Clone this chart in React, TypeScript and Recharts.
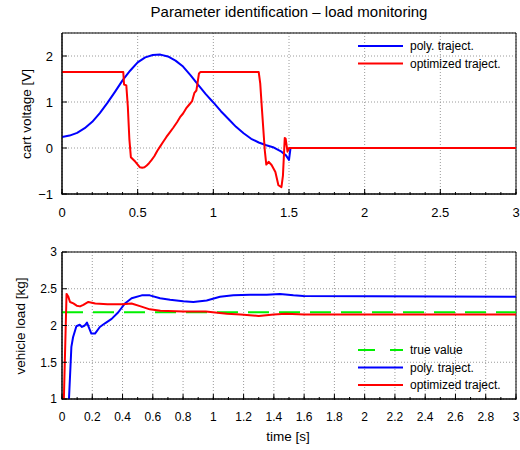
import React from 'react';
import { LineChart, Line, XAxis, YAxis, CartesianGrid, ReferenceArea, Legend } from 'recharts';

const FONT = '"Liberation Sans", Arial, Helvetica, sans-serif';

// ---------- tick labels ----------
const topXTicks = [0, 0.5, 1, 1.5, 2, 2.5, 3];
const topYTicks = [-1, 0, 1, 2];
const bottomXTicks = [0, 0.2, 0.4, 0.6, 0.8, 1, 1.2, 1.4, 1.6, 1.8, 2, 2.2, 2.4, 2.6, 2.8, 3];
const bottomYTicks = [1, 1.5, 2, 2.5, 3];
const minorXTicks = [0, 0.1, 0.2, 0.3, 0.4, 0.5, 0.6, 0.7, 0.8, 0.9, 1, 1.1, 1.2, 1.3, 1.4, 1.5, 1.6, 1.7, 1.8, 1.9, 2, 2.1, 2.2, 2.3, 2.4, 2.5, 2.6, 2.7, 2.8, 2.9, 3];

// ---------- top plot: cart voltage ----------
const polyVoltageT = [0, 0.05, 0.1, 0.15, 0.2, 0.25, 0.3, 0.35, 0.4, 0.45, 0.5, 0.55, 0.6, 0.65, 0.7, 0.75, 0.8, 0.85, 0.9, 0.95, 1.0, 1.05, 1.1, 1.15, 1.2, 1.25, 1.3, 1.35, 1.4, 1.45, 1.48, 1.5, 1.51, 3];
const polyVoltageV = [0.24, 0.27, 0.33, 0.43, 0.57, 0.76, 0.98, 1.22, 1.47, 1.68, 1.86, 1.97, 2.02, 2.03, 1.99, 1.9, 1.77, 1.58, 1.37, 1.17, 0.99, 0.8, 0.63, 0.46, 0.32, 0.2, 0.12, 0.06, 0.01, -0.08, -0.16, -0.26, 0, 0];

const optVoltageT = [0, 0.405, 0.41, 0.425, 0.435, 0.445, 0.455, 0.47, 0.485, 0.5, 0.515, 0.53, 0.545, 0.56, 0.575, 0.59, 0.61, 0.63, 0.65, 0.67, 0.69, 0.71, 0.735, 0.76, 0.78, 0.8, 0.82, 0.84, 0.86, 0.875, 0.888, 0.895, 0.905, 0.915, 1.3, 1.31, 1.32, 1.34, 1.35, 1.365, 1.385, 1.41, 1.43, 1.45, 1.46, 1.472, 1.478, 1.49, 1.5, 3];
const optVoltageV = [1.65, 1.65, 1.38, 1.36, 0.9, 0.2, -0.2, -0.25, -0.3, -0.36, -0.42, -0.43, -0.42, -0.38, -0.33, -0.27, -0.18, -0.06, 0.04, 0.14, 0.24, 0.33, 0.44, 0.56, 0.67, 0.75, 0.86, 0.94, 1.02, 1.2, 1.25, 1.4, 1.62, 1.65, 1.65, 1.4, 0.9, -0.05, -0.36, -0.3, -0.37, -0.52, -0.81, -0.85, -0.6, 0.22, 0.2, -0.08, 0, 0];

// ---------- bottom plot: vehicle load ----------
const trueLoadT = [0, 3];
const trueLoadV = [2.18, 2.18];

const polyLoadT = [0, 0.035, 0.062, 0.073, 0.095, 0.117, 0.132, 0.15, 0.165, 0.18, 0.194, 0.218, 0.25, 0.284, 0.328, 0.372, 0.416, 0.46, 0.527, 0.58, 0.648, 0.714, 0.8, 0.868, 0.956, 1.044, 1.132, 1.243, 1.353, 1.44, 1.529, 1.595, 3];
const polyLoadV = [0.3, 0.5, 1.71, 1.84, 1.99, 2.01, 1.98, 2.0, 2.04, 1.96, 1.89, 1.89, 1.98, 2.03, 2.09, 2.18, 2.3, 2.37, 2.41, 2.41, 2.37, 2.35, 2.33, 2.32, 2.34, 2.39, 2.41, 2.42, 2.42, 2.43, 2.41, 2.4, 2.39];

const optLoadT = [0, 0.03, 0.042, 0.053, 0.075, 0.097, 0.119, 0.141, 0.174, 0.22, 0.3, 0.4, 0.46, 0.52, 0.58, 0.65, 0.8, 0.95, 1.09, 1.18, 1.3, 1.4, 1.48, 1.6, 3];
const optLoadV = [0, 2.43, 2.39, 2.32, 2.3, 2.27, 2.26, 2.28, 2.32, 2.3, 2.29, 2.29, 2.3, 2.26, 2.22, 2.2, 2.19, 2.19, 2.16, 2.15, 2.13, 2.15, 2.16, 2.15, 2.15];

const zip = (ts: number[], vs: number[]) => ts.map((t, i) => ({ t, v: vs[i] }));

const polyVoltage = zip(polyVoltageT, polyVoltageV);
const optVoltage = zip(optVoltageT, optVoltageV);
const trueLoad = zip(trueLoadT, trueLoadV);
const polyLoad = zip(polyLoadT, polyLoadV);
const optLoad = zip(optLoadT, optLoadV);

const BLUE = '#0000ff';
const RED = '#ff0000';
const GREEN = '#00f000';

type LegendItem = { name: string; color: string; dash?: string };
const topLegendItems: LegendItem[] = [
  { name: 'poly. traject.', color: BLUE },
  { name: 'optimized traject.', color: RED },
];
const bottomLegendItems: LegendItem[] = [
  { name: 'true value', color: GREEN, dash: '17 15' },
  { name: 'poly. traject.', color: BLUE },
  { name: 'optimized traject.', color: RED },
];

const fmt = (v: number) => (v < 0 ? '\u2212' + Math.abs(v) : String(v));

const makeLegend = (items: LegendItem[]) => () => (
  <svg width={165} height={items.length * 17.5 + 4} style={{ display: 'block' }}>
    {items.map((it, i) => {
      const y = 8 + i * 17.5;
      return (
        <g key={it.name}>
          <line x1={3} x2={48} y1={y} y2={y} stroke={it.color} strokeWidth={2} strokeDasharray={it.dash} />
          <text x={55} y={y + 4} fontSize={12} fontFamily={FONT} fill="#000">{it.name}</text>
        </g>
      );
    })}
  </svg>
);

const tickStyle = (size: number) => ({ fontSize: size, fill: '#000', fontFamily: FONT });

function TopChart() {
  return (
    <LineChart width={520} height={450} margin={{ top: 33, right: 4, bottom: 254, left: 61 }}>
      <CartesianGrid stroke="#9a9a9a" strokeDasharray="1 2" />
      <XAxis type="number" dataKey="t" domain={[0, 3]} ticks={topXTicks} interval={0} height={1} tickSize={-5} tickMargin={19}
        tick={tickStyle(13)} axisLine={{ stroke: '#000' }} tickLine={{ stroke: '#000' }} allowDataOverflow />
      <XAxis xAxisId="minor" type="number" dataKey="t" domain={[0, 3]} ticks={minorXTicks} interval={0} height={1} tickSize={-3}
        tickFormatter={() => ''} axisLine={false} tickLine={{ stroke: '#000' }} allowDataOverflow />
      <YAxis type="number" domain={[-1, 2.5]} ticks={topYTicks} interval={0} width={1} tickSize={-5} tickMargin={14}
        tick={tickStyle(13)} tickFormatter={fmt} axisLine={{ stroke: '#000' }} tickLine={{ stroke: '#000' }} allowDataOverflow />
      <ReferenceArea x1={0} x2={3} y1={-1} y2={2.5} fill="none" fillOpacity={0} stroke="#000" strokeWidth={1} />
      <Line data={polyVoltage} dataKey="v" name="poly. traject." stroke={BLUE} strokeWidth={2} dot={false} activeDot={false} isAnimationActive={false} strokeLinejoin="round" />
      <Line data={optVoltage} dataKey="v" name="optimized traject." stroke={RED} strokeWidth={2} dot={false} activeDot={false} isAnimationActive={false} strokeLinejoin="round" />
      <Legend layout="horizontal" verticalAlign="middle" align="center" content={makeLegend(topLegendItems)}
        wrapperStyle={{ left: 355, top: 38, width: 165, height: 40 }} />
    </LineChart>
  );
}

function BottomChart() {
  return (
    <LineChart width={520} height={450} margin={{ top: 252, right: 4, bottom: 49, left: 61 }}>
      <CartesianGrid stroke="#9a9a9a" strokeDasharray="1 2" />
      <XAxis type="number" dataKey="t" domain={[0, 3]} ticks={bottomXTicks} interval={0} height={1} tickSize={-5} tickMargin={18}
        tick={tickStyle(12)} axisLine={{ stroke: '#000' }} tickLine={{ stroke: '#000' }} allowDataOverflow />
      <XAxis xAxisId="minor" type="number" dataKey="t" domain={[0, 3]} ticks={minorXTicks} interval={0} height={1} tickSize={-3}
        tickFormatter={() => ''} axisLine={false} tickLine={{ stroke: '#000' }} allowDataOverflow />
      <YAxis type="number" domain={[1, 3]} ticks={bottomYTicks} interval={0} width={1} tickSize={-5} tickMargin={10}
        tick={tickStyle(12)} axisLine={{ stroke: '#000' }} tickLine={{ stroke: '#000' }} allowDataOverflow />
      <ReferenceArea x1={0} x2={3} y1={1} y2={3} fill="none" fillOpacity={0} stroke="#000" strokeWidth={1} />
      <Line data={trueLoad} dataKey="v" name="true value" stroke={GREEN} strokeWidth={2} strokeDasharray="21 10" dot={false} activeDot={false} isAnimationActive={false} />
      <Line data={polyLoad} dataKey="v" name="poly. traject." stroke={BLUE} strokeWidth={2} dot={false} activeDot={false} isAnimationActive={false} strokeLinejoin="round" />
      <Line data={optLoad} dataKey="v" name="optimized traject." stroke={RED} strokeWidth={2} dot={false} activeDot={false} isAnimationActive={false} strokeLinejoin="round" />
      <Legend layout="horizontal" verticalAlign="middle" align="center" content={makeLegend(bottomLegendItems)}
        wrapperStyle={{ left: 355, top: 342, width: 165, height: 58 }} />
    </LineChart>
  );
}

export default function App() {
  return (
    <div style={{ position: 'absolute', left: 0, top: 0, width: 520, height: 450, background: '#fff', fontFamily: FONT }}>
      <div style={{ position: 'absolute', left: 0, top: 0 }}>
        <TopChart />
      </div>
      <div style={{ position: 'absolute', left: 0, top: 0 }}>
        <BottomChart />
      </div>
      <svg width={520} height={450} style={{ position: 'absolute', left: 0, top: 0, pointerEvents: 'none' }}>
        <text x={289} y={17} textAnchor="middle" fontSize={15} fontFamily={FONT} fill="#000">
          Parameter identification – load monitoring
        </text>
        <text transform="translate(31,114) rotate(-90)" textAnchor="middle" fontSize={13.5} fontFamily={FONT} fill="#000">
          cart voltage [V]
        </text>
        <text transform="translate(25,326) rotate(-90)" textAnchor="middle" fontSize={13.5} fontFamily={FONT} fill="#000">
          vehicle load [kg]
        </text>
        <text x={288} y={441} textAnchor="middle" fontSize={13.5} fontFamily={FONT} fill="#000">
          time [s]
        </text>
      </svg>
    </div>
  );
}
